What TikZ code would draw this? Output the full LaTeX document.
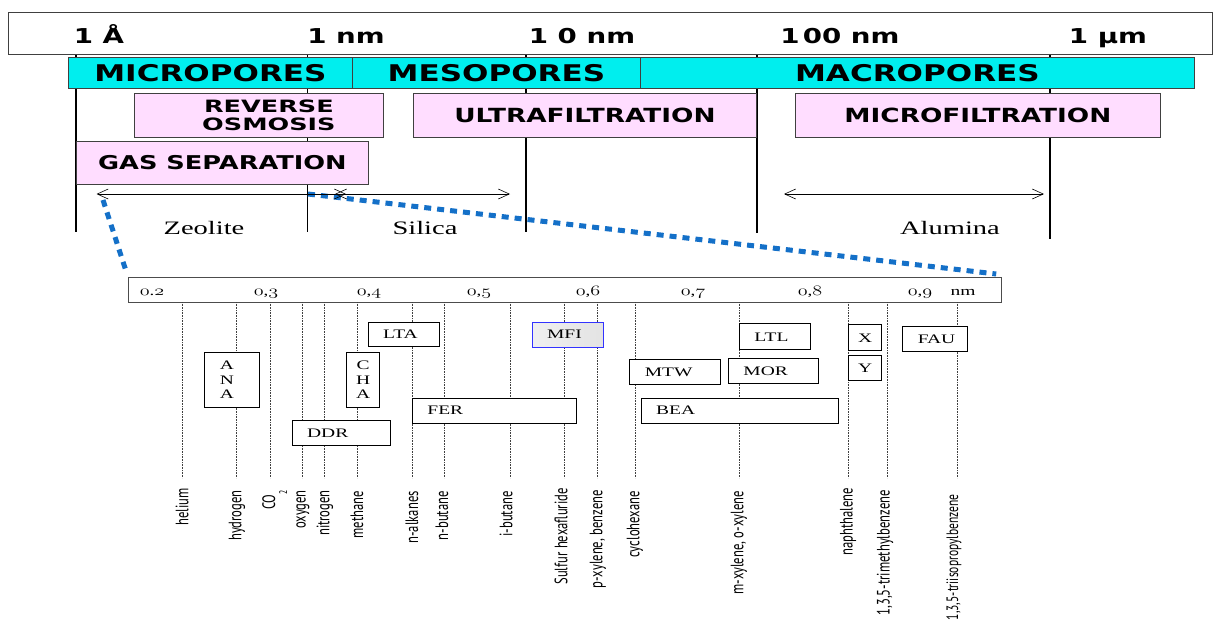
\documentclass[tikz,border=0pt]{standalone}
\usepackage{graphicx}
\usepackage{fontspec}
\setmainfont{Liberation Serif}
\newfontfamily\hd[FakeStretch=1.35]{DejaVu Sans}
\newfontfamily\hdw[FakeStretch=1.5]{DejaVu Sans}
\newfontfamily\mol[FakeStretch=0.7]{PT Sans}
\newfontfamily\lbl[FakeStretch=1.5]{Liberation Serif}
\usetikzlibrary{arrows.meta}
\definecolor{cy}{RGB}{0,238,238}
\definecolor{pk}{RGB}{255,221,255}
\definecolor{bl}{RGB}{20,112,200}
\newcommand\osn[1]{{\usefont{OML}{cmm}{m}{it}#1}}
\newcommand\tick[1]{\scalebox{1.4}[1]{#1}}
\begin{document}
\begin{tikzpicture}[x=1pt,y=-1pt,
  tbox/.style={draw=black!75, line width=0.8pt, inner sep=0pt, anchor=north west, align=center},
  cyb/.style={tbox, fill=cy, font=\hd\bfseries\fontsize{23}{23}\selectfont},
  pkb/.style={tbox, fill=pk, font=\hd\bfseries\fontsize{19.5}{19.5}\selectfont},
  toplab/.style={font=\hd\bfseries\fontsize{20.5}{20.5}\selectfont, anchor=base, inner sep=0pt},
  zb/.style={draw, line width=0.9pt, fill=white, anchor=north west, inner ysep=0pt, inner xsep=15pt, align=left, font=\lbl\fontsize{13}{14.5}\selectfont},
  zc/.style={zb, inner xsep=0pt, align=center},
  vline/.style={line width=1.2pt},
  mline/.style={densely dotted, black!75, line width=0.6pt},
  mlab/.style={rotate=90, anchor=east, font=\mol\fontsize{18}{18}\selectfont, inner sep=0pt},
  dimarrow/.style={line width=0.6pt, {Straight Barb[length=11pt,width=10pt]}-{Straight Barb[length=11pt,width=10pt]}},
  zoomline/.style={bl, line width=5pt, dash pattern=on 7pt off 6pt},
  matlab/.style={font=\lbl\fontsize{19}{19}\selectfont, anchor=base, inner sep=0pt},
  ticklab/.style={font=\fontsize{13.5}{13.5}\selectfont, anchor=base, inner sep=0pt}]
\useasboundingbox (0,0) rectangle (1213,630);
\fill[white] (0,0) rectangle (1213,630);

% vertical scale lines
\foreach \n/\x/\y in {a/76/232, b/307.5/232, c/526/232, d/757/233, e/1050/239}{
  \coordinate (t\n) at (\x,54);
  \coordinate (u\n) at (\x,\y);
  \draw[vline] (t\n) -- (u\n);
}

% top bar
\node[draw=black!75, line width=0.8pt, fill=white, anchor=north west, minimum width=1204pt, minimum height=42pt, inner sep=0pt] (bar) at (8,12) {};
\node[toplab] (l1) at (99,43) {1 Å};
\node[toplab] (l2) at (346,43) {1 nm};
\node[toplab] (l3) at (582,43) {1 0 nm};
\node[toplab] (l4) at (840,43) {1\hspace{0.15em}00 nm};
\node[toplab] (l5) at (1108,43) {1 µm};

% pore classes
\node[cyb, minimum width=284pt, minimum height=31pt] (micro) at (68,57) {MICROPORES};
\node[cyb, minimum width=288pt, minimum height=31pt] (meso) at (352,57) {MESOPORES};
\node[cyb, minimum width=554pt, minimum height=31pt] (macro) at (640,57) {MACROPORES};

% processes
\node[pkb, minimum width=249pt, minimum height=44pt, font=\hdw\bfseries\fontsize{17}{18}\selectfont] (ro) at (134,93) {\hspace*{20pt}REVERSE\\\hspace*{20pt}OSMOSIS};
\node[pkb, minimum width=343pt, minimum height=44pt] (uf) at (413,93) {ULTRAFILTRATION};
\node[pkb, minimum width=365pt, minimum height=44pt] (mf) at (795,93) {MICROFILTRATION};
\node[pkb, minimum width=292pt, minimum height=43pt, font=\hd\bfseries\fontsize{19}{19}\selectfont] (gas) at (76,141) {GAS SEPARATION};

% zoom lines
\node[draw=black!70, line width=1.2pt, fill=white, anchor=north west, minimum width=873pt, minimum height=25pt, inner sep=0pt] (scale) at (128,277) {};
\coordinate (zl) at (103,200);
\coordinate (zr) at (308,194);
\draw[zoomline] (zl) -- ([xshift=-1pt,yshift=3pt]scale.north west);
\draw[zoomline] (zr) -- ([xshift=-6pt,yshift=3pt]scale.north east);

% material ranges
\coordinate (za) at (96.5,194); \coordinate (zb) at (346,194);
\coordinate (sa) at (335,194); \coordinate (sb) at (510,194);
\coordinate (aa) at (784,194); \coordinate (ab) at (1044,194);
\draw[dimarrow] (za) -- (zb);
\draw[dimarrow] (sa) -- (sb);
\draw[dimarrow] (aa) -- (ab);
\node[matlab] (zeo) at (204,234) {Zeolite};
\node[matlab] (sil) at (425,234) {Silica};
\node[matlab] (alu) at (950,234) {Alumina};

% scale labels
\node[ticklab] (s2) at (152,295) {\tick{\osn{0}.\osn{2}}};
\node[ticklab] (s3) at (266,295) {\tick{\osn{0},\osn{3}}};
\node[ticklab] (s4) at (369,295) {\tick{\osn{0},\osn{4}}};
\node[ticklab] (s5) at (479,295) {\tick{\osn{0},\osn{5}}};
\node[ticklab] (s6) at (588,295) {\tick{\osn{0},\osn{6}}};
\node[ticklab] (s7) at (693,295) {\tick{\osn{0},\osn{7}}};
\node[ticklab] (s8) at (810,295) {\tick{\osn{0},\osn{8}}};
\node[ticklab] (s9) at (920,295) {\tick{\osn{0},\osn{9}}};
\node[ticklab, font=\lbl\fontsize{13}{13}\selectfont] (snm) at (963,295) {nm};

% molecule lines and labels
\foreach \lx/\tx/\ty/\t [count=\i] in {
  182.7/182/488/helium, 236.7/237/490/hydrogen, 302.7/303/490/oxygen,
  324.3/325/490/nitrogen, 357.3/357/491/methane, 412.3/412/491/n-alkanes,
  444.3/442/491/n-butane, 510/506/491/i-butane, 564.7/561/488/Sulfur hexafluride,
  597/598/490/{p-xylene, benzene}, 635.3/635/491/cyclohexane,
  739/739/491/{m-xylene, o-xylene}, 848.3/848/488/naphthalene,
  887.7/885/490/{1,3,5-trimethylbenzene}}{
  \coordinate (ma\i) at (\lx,302);
  \coordinate (mb\i) at (\lx,478);
  \draw[mline] (ma\i) -- (mb\i);
  \node[mlab] (m\i) at (\tx,\ty) {\t};
}
\coordinate (mat) at (957.3,302); \coordinate (mbt) at (957.3,478);
\draw[mline] (mat) -- (mbt);
\node[mlab, font=\mol\fontsize{16.5}{16.5}\selectfont] (tipb) at (954,494) {1,3,5-triisopropylbenzene};
\coordinate (mac) at (270,302); \coordinate (mbc) at (270,478);
\draw[mline] (mac) -- (mbc);
\node[mlab, anchor=base east] (co2) at (275,490) {CO\raisebox{-12pt}{\fontsize{11}{11}\selectfont 2}};

% zeolite frameworks
\node[zb, text width=41.6pt, minimum height=24.6pt] (lta) at (367.7,321.7) {LTA};
\node[zb, text width=25pt, minimum height=55.3pt] (ana) at (204.3,351.7) {A\\N\\A};
\node[zc, text width=33.3pt, minimum height=55.3pt] (cha) at (346,351.7) {C\\H\\A};
\node[zb, text width=133.7pt, minimum height=25pt] (fer) at (412,397.7) {FER};
\node[zb, text width=68.3pt, minimum height=25pt] (ddr) at (291.7,420.3) {DDR};
\node[zb, text width=41.6pt, minimum height=25pt, draw=blue!80, left color=gray!12, right color=gray!22] (mfi) at (531.7,321.7) {MFI};
\node[zb, text width=41pt, minimum height=26pt] (ltl) at (739,323.3) {LTL};
\node[zb, text width=61pt, minimum height=25pt] (mtw) at (629.3,359.3) {MTW};
\node[zb, text width=60.3pt, minimum height=25pt] (mor) at (728,358.3) {MOR};
\node[zb, text width=167pt, minimum height=25pt] (bea) at (640.7,397.7) {BEA};
\node[zc, text width=32.7pt, minimum height=26pt] (x) at (848.3,324.3) {X};
\node[zc, text width=32.7pt, minimum height=25pt] (y) at (848.3,355) {Y};
\node[zb, text width=34.4pt, minimum height=25.3pt] (fau) at (902.3,325.7) {FAU};
\end{tikzpicture}
\end{document}
